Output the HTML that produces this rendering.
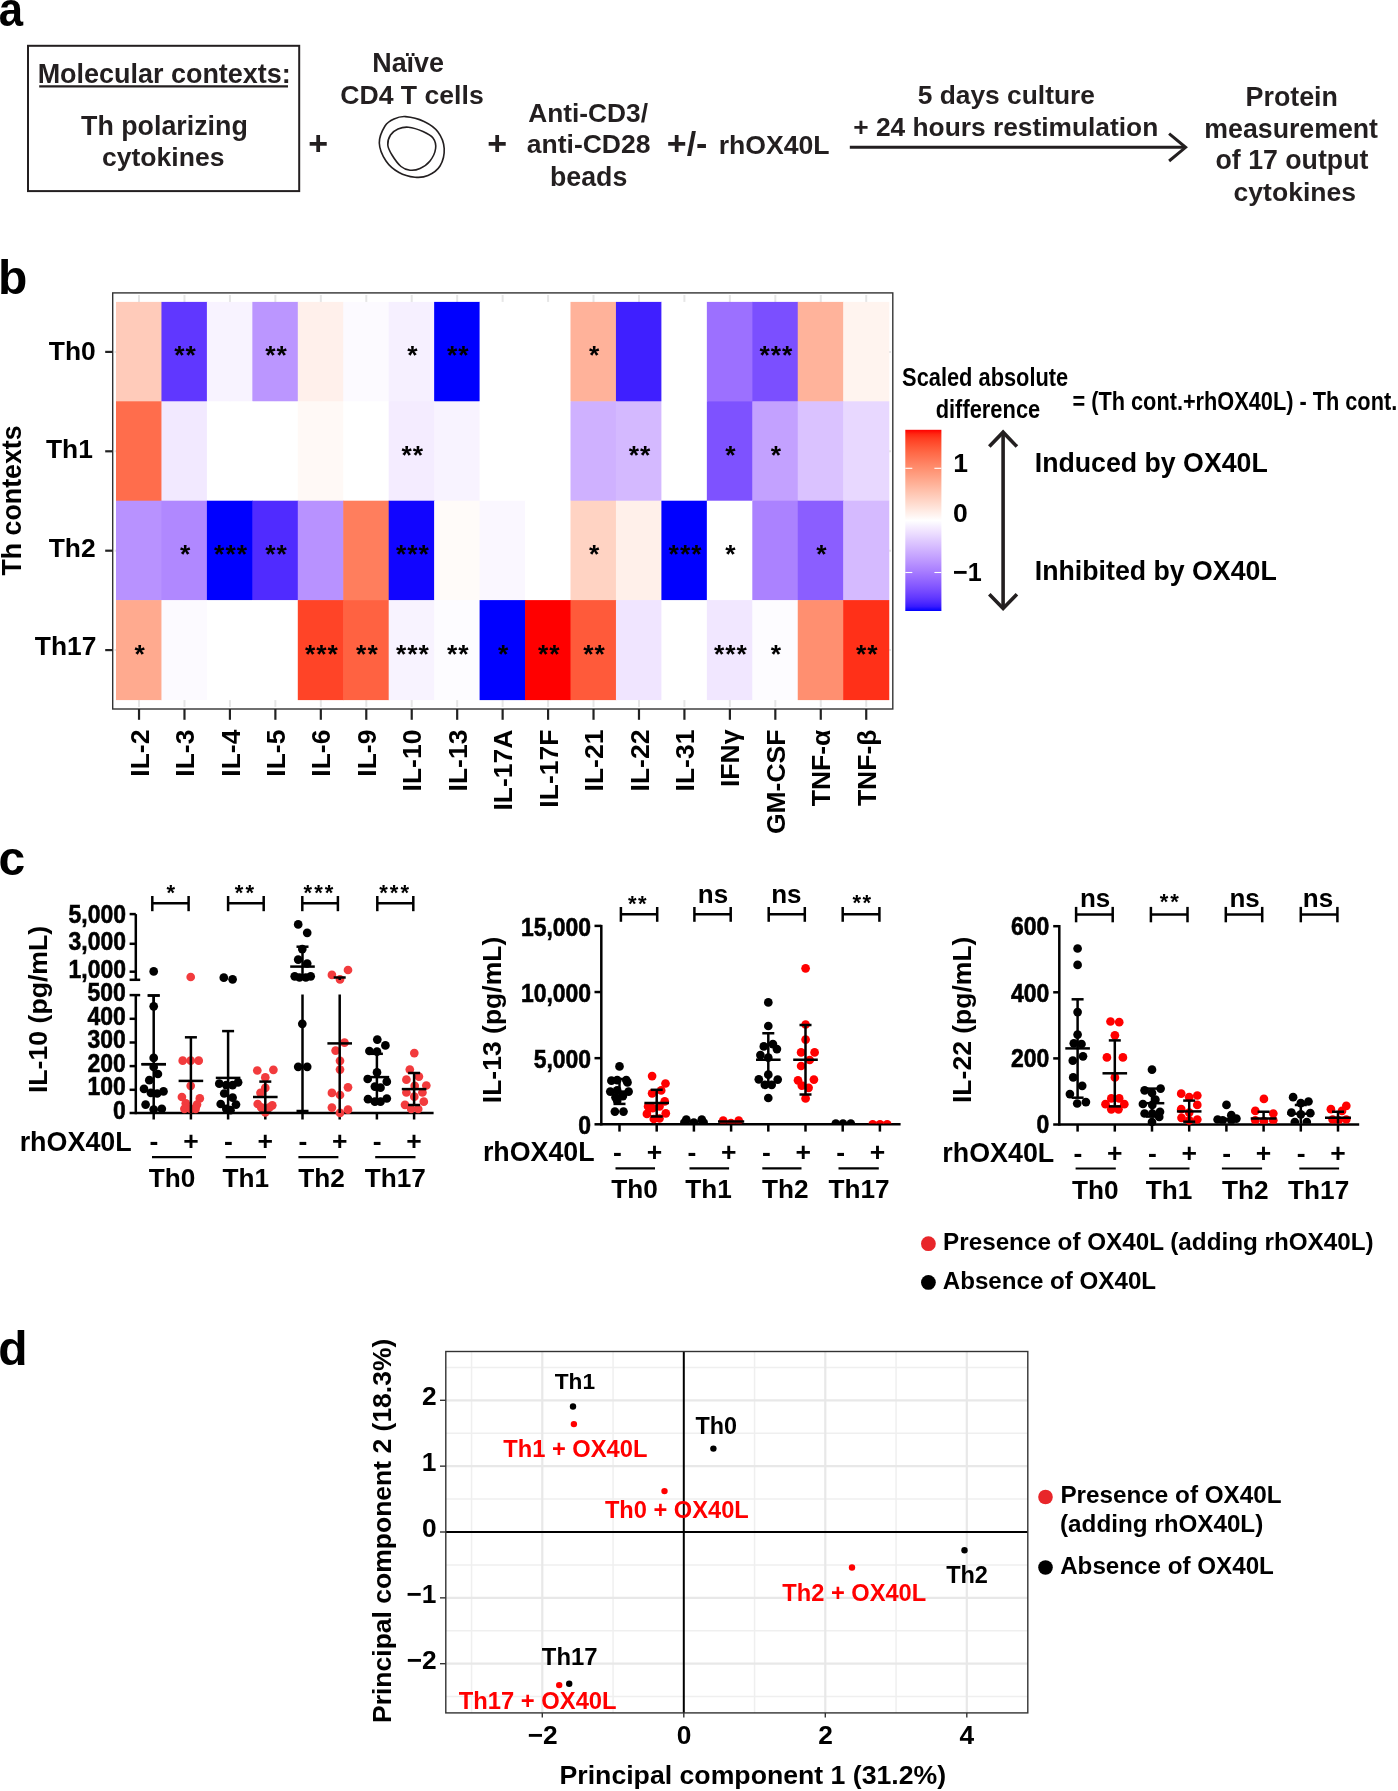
<!DOCTYPE html>
<html><head><meta charset="utf-8"><title>Figure</title>
<style>
html,body{margin:0;padding:0;background:#fff;}
svg{display:block;will-change:transform;}
text{font-family:"Liberation Sans",sans-serif;font-weight:bold;}
</style></head>
<body>
<svg width="1398" height="1791" viewBox="0 0 1398 1791">
<rect x="0" y="0" width="1398" height="1791" fill="#fff"/>
<text transform="translate(-1.36,26.20) scale(0.91,1)" font-size="48" fill="#000" >a</text>
<rect x="28" y="45.8" width="271.2" height="145.3" fill="none" stroke="#231f20" stroke-width="2"/>
<text x="37.65" y="82.90" font-size="26.96" fill="#231f20" >Molecular contexts:</text>
<line x1="39.20" y1="86.40" x2="288.00" y2="86.40" stroke="#231f20" stroke-width="2.2" stroke-linecap="butt"/>
<text x="81.05" y="134.60" font-size="26.8" fill="#231f20" >Th polarizing</text>
<text x="102.00" y="166.00" font-size="26.54" fill="#231f20" >cytokines</text>
<text x="308.30" y="155.40" font-size="34" fill="#231f20" >+</text>
<text x="372.25" y="72.30" font-size="26.9" fill="#231f20" >Naïve</text>
<text x="340.20" y="103.70" font-size="26.63" fill="#231f20" >CD4 T cells</text>
<path d="M405.50,116.60 C410.50,117.02 418.58,118.93 424.00,121.50 C429.42,124.07 434.63,127.50 438.00,132.00 C441.37,136.50 443.87,142.83 444.20,148.50 C444.53,154.17 442.70,161.50 440.00,166.00 C437.30,170.50 432.17,173.63 428.00,175.50 C423.83,177.37 419.83,177.70 415.00,177.20 C410.17,176.70 403.83,175.20 399.00,172.50 C394.17,169.80 389.28,165.92 386.00,161.00 C382.72,156.08 379.47,148.83 379.30,143.00 C379.13,137.17 382.55,130.00 385.00,126.00 C387.45,122.00 390.58,120.57 394.00,119.00 C397.42,117.43 400.50,116.18 405.50,116.60 Z" fill="none" stroke="#231f20" stroke-width="1.6"/>
<path d="M408.50,127.20 C412.67,127.62 418.92,129.70 423.00,131.50 C427.08,133.30 430.90,135.17 433.00,138.00 C435.10,140.83 436.10,144.67 435.60,148.50 C435.10,152.33 432.60,157.67 430.00,161.00 C427.40,164.33 423.33,166.97 420.00,168.50 C416.67,170.03 413.17,170.53 410.00,170.20 C406.83,169.87 404.00,169.03 401.00,166.50 C398.00,163.97 394.20,158.58 392.00,155.00 C389.80,151.42 388.05,148.33 387.80,145.00 C387.55,141.67 388.80,137.67 390.50,135.00 C392.20,132.33 395.00,130.30 398.00,129.00 C401.00,127.70 404.33,126.78 408.50,127.20 Z" fill="none" stroke="#231f20" stroke-width="1.6"/>
<text x="487.30" y="155.40" font-size="34" fill="#231f20" >+</text>
<text x="528.25" y="121.80" font-size="26.31" fill="#231f20" >Anti-CD3/</text>
<text x="526.75" y="153.40" font-size="26.53" fill="#231f20" >anti-CD28</text>
<text x="550.05" y="185.80" font-size="26.72" fill="#231f20" >beads</text>
<text x="666.80" y="154.60" font-size="34" fill="#231f20" >+/-</text>
<text x="718.65" y="153.80" font-size="26.63" fill="#231f20" >rhOX40L</text>
<line x1="849.80" y1="147.30" x2="1185.00" y2="147.30" stroke="#231f20" stroke-width="3" stroke-linecap="butt"/>
<polyline points="1169.1,133.6 1185.6,147.3 1169.1,161.0" fill="none" stroke="#231f20" stroke-width="3"/>
<text x="917.75" y="104.30" font-size="26.35" fill="#231f20" >5 days culture</text>
<text x="853.20" y="136.40" font-size="26.34" fill="#231f20" >+ 24 hours restimulation</text>
<text x="1245.55" y="106.00" font-size="26.83" fill="#231f20" >Protein</text>
<text x="1204.35" y="137.70" font-size="26.71" fill="#231f20" >measurement</text>
<text x="1215.50" y="169.40" font-size="26.72" fill="#231f20" >of 17 output</text>
<text x="1233.60" y="200.90" font-size="26.54" fill="#231f20" >cytokines</text>
<text x="-1.95" y="294.30" font-size="48" fill="#000" >b</text>
<line x1="139.03" y1="295.00" x2="139.03" y2="707.00" stroke="#e6e6e6" stroke-width="2.0" stroke-linecap="butt"/>
<line x1="184.48" y1="295.00" x2="184.48" y2="707.00" stroke="#e6e6e6" stroke-width="2.0" stroke-linecap="butt"/>
<line x1="229.93" y1="295.00" x2="229.93" y2="707.00" stroke="#e6e6e6" stroke-width="2.0" stroke-linecap="butt"/>
<line x1="275.38" y1="295.00" x2="275.38" y2="707.00" stroke="#e6e6e6" stroke-width="2.0" stroke-linecap="butt"/>
<line x1="320.82" y1="295.00" x2="320.82" y2="707.00" stroke="#e6e6e6" stroke-width="2.0" stroke-linecap="butt"/>
<line x1="366.28" y1="295.00" x2="366.28" y2="707.00" stroke="#e6e6e6" stroke-width="2.0" stroke-linecap="butt"/>
<line x1="411.73" y1="295.00" x2="411.73" y2="707.00" stroke="#e6e6e6" stroke-width="2.0" stroke-linecap="butt"/>
<line x1="457.18" y1="295.00" x2="457.18" y2="707.00" stroke="#e6e6e6" stroke-width="2.0" stroke-linecap="butt"/>
<line x1="502.63" y1="295.00" x2="502.63" y2="707.00" stroke="#e6e6e6" stroke-width="2.0" stroke-linecap="butt"/>
<line x1="548.08" y1="295.00" x2="548.08" y2="707.00" stroke="#e6e6e6" stroke-width="2.0" stroke-linecap="butt"/>
<line x1="593.52" y1="295.00" x2="593.52" y2="707.00" stroke="#e6e6e6" stroke-width="2.0" stroke-linecap="butt"/>
<line x1="638.98" y1="295.00" x2="638.98" y2="707.00" stroke="#e6e6e6" stroke-width="2.0" stroke-linecap="butt"/>
<line x1="684.42" y1="295.00" x2="684.42" y2="707.00" stroke="#e6e6e6" stroke-width="2.0" stroke-linecap="butt"/>
<line x1="729.88" y1="295.00" x2="729.88" y2="707.00" stroke="#e6e6e6" stroke-width="2.0" stroke-linecap="butt"/>
<line x1="775.33" y1="295.00" x2="775.33" y2="707.00" stroke="#e6e6e6" stroke-width="2.0" stroke-linecap="butt"/>
<line x1="820.77" y1="295.00" x2="820.77" y2="707.00" stroke="#e6e6e6" stroke-width="2.0" stroke-linecap="butt"/>
<line x1="866.23" y1="295.00" x2="866.23" y2="707.00" stroke="#e6e6e6" stroke-width="2.0" stroke-linecap="butt"/>
<line x1="114.50" y1="351.90" x2="891.00" y2="351.90" stroke="#e6e6e6" stroke-width="2.0" stroke-linecap="butt"/>
<line x1="114.50" y1="451.30" x2="891.00" y2="451.30" stroke="#e6e6e6" stroke-width="2.0" stroke-linecap="butt"/>
<line x1="114.50" y1="550.70" x2="891.00" y2="550.70" stroke="#e6e6e6" stroke-width="2.0" stroke-linecap="butt"/>
<line x1="114.50" y1="650.10" x2="891.00" y2="650.10" stroke="#e6e6e6" stroke-width="2.0" stroke-linecap="butt"/>
<rect x="116.00" y="301.90" width="46.05" height="100.00" fill="#ffcbba"/>
<rect x="161.45" y="301.90" width="46.05" height="100.00" fill="#6037ff"/>
<rect x="206.90" y="301.90" width="46.05" height="100.00" fill="#f8f3ff"/>
<rect x="252.35" y="301.90" width="46.05" height="100.00" fill="#bb96ff"/>
<rect x="297.80" y="301.90" width="46.05" height="100.00" fill="#fff0eb"/>
<rect x="343.25" y="301.90" width="46.05" height="100.00" fill="#fcfaff"/>
<rect x="388.70" y="301.90" width="46.05" height="100.00" fill="#f6f0ff"/>
<rect x="434.15" y="301.90" width="46.05" height="100.00" fill="#0000ff"/>
<rect x="479.60" y="301.90" width="46.05" height="100.00" fill="#ffffff"/>
<rect x="525.05" y="301.90" width="46.05" height="100.00" fill="#ffffff"/>
<rect x="570.50" y="301.90" width="46.05" height="100.00" fill="#ffb29a"/>
<rect x="615.95" y="301.90" width="46.05" height="100.00" fill="#3f1fff"/>
<rect x="661.40" y="301.90" width="46.05" height="100.00" fill="#ffffff"/>
<rect x="706.85" y="301.90" width="46.05" height="100.00" fill="#9c70ff"/>
<rect x="752.30" y="301.90" width="46.05" height="100.00" fill="#7b4fff"/>
<rect x="797.75" y="301.90" width="46.05" height="100.00" fill="#ffb39b"/>
<rect x="843.20" y="301.90" width="46.05" height="100.00" fill="#fff4ef"/>
<rect x="116.00" y="401.30" width="46.05" height="100.00" fill="#ff6d4c"/>
<rect x="161.45" y="401.30" width="46.05" height="100.00" fill="#f2e9ff"/>
<rect x="206.90" y="401.30" width="46.05" height="100.00" fill="#ffffff"/>
<rect x="252.35" y="401.30" width="46.05" height="100.00" fill="#ffffff"/>
<rect x="297.80" y="401.30" width="46.05" height="100.00" fill="#fff9f6"/>
<rect x="343.25" y="401.30" width="46.05" height="100.00" fill="#ffffff"/>
<rect x="388.70" y="401.30" width="46.05" height="100.00" fill="#f4ecff"/>
<rect x="434.15" y="401.30" width="46.05" height="100.00" fill="#f8f3ff"/>
<rect x="479.60" y="401.30" width="46.05" height="100.00" fill="#ffffff"/>
<rect x="525.05" y="401.30" width="46.05" height="100.00" fill="#ffffff"/>
<rect x="570.50" y="401.30" width="46.05" height="100.00" fill="#cfb1ff"/>
<rect x="615.95" y="401.30" width="46.05" height="100.00" fill="#d4b9ff"/>
<rect x="661.40" y="401.30" width="46.05" height="100.00" fill="#ffffff"/>
<rect x="706.85" y="401.30" width="46.05" height="100.00" fill="#7e52ff"/>
<rect x="752.30" y="401.30" width="46.05" height="100.00" fill="#c3a1ff"/>
<rect x="797.75" y="401.30" width="46.05" height="100.00" fill="#dac2ff"/>
<rect x="843.20" y="401.30" width="46.05" height="100.00" fill="#e8d8ff"/>
<rect x="116.00" y="500.70" width="46.05" height="100.00" fill="#b892ff"/>
<rect x="161.45" y="500.70" width="46.05" height="100.00" fill="#b088ff"/>
<rect x="206.90" y="500.70" width="46.05" height="100.00" fill="#0000ff"/>
<rect x="252.35" y="500.70" width="46.05" height="100.00" fill="#502bff"/>
<rect x="297.80" y="500.70" width="46.05" height="100.00" fill="#b892ff"/>
<rect x="343.25" y="500.70" width="46.05" height="100.00" fill="#ff7e5d"/>
<rect x="388.70" y="500.70" width="46.05" height="100.00" fill="#1105ff"/>
<rect x="434.15" y="500.70" width="46.05" height="100.00" fill="#fffbf9"/>
<rect x="479.60" y="500.70" width="46.05" height="100.00" fill="#faf7ff"/>
<rect x="525.05" y="500.70" width="46.05" height="100.00" fill="#ffffff"/>
<rect x="570.50" y="500.70" width="46.05" height="100.00" fill="#ffd3c3"/>
<rect x="615.95" y="500.70" width="46.05" height="100.00" fill="#fff0ea"/>
<rect x="661.40" y="500.70" width="46.05" height="100.00" fill="#0000ff"/>
<rect x="706.85" y="500.70" width="46.05" height="100.00" fill="#ffffff"/>
<rect x="752.30" y="500.70" width="46.05" height="100.00" fill="#ab82ff"/>
<rect x="797.75" y="500.70" width="46.05" height="100.00" fill="#8b5eff"/>
<rect x="843.20" y="500.70" width="46.05" height="100.00" fill="#d5baff"/>
<rect x="116.00" y="600.10" width="46.05" height="100.00" fill="#ffaa8f"/>
<rect x="161.45" y="600.10" width="46.05" height="100.00" fill="#fcfaff"/>
<rect x="206.90" y="600.10" width="46.05" height="100.00" fill="#ffffff"/>
<rect x="252.35" y="600.10" width="46.05" height="100.00" fill="#ffffff"/>
<rect x="297.80" y="600.10" width="46.05" height="100.00" fill="#ff4427"/>
<rect x="343.25" y="600.10" width="46.05" height="100.00" fill="#ff6241"/>
<rect x="388.70" y="600.10" width="46.05" height="100.00" fill="#f8f3ff"/>
<rect x="434.15" y="600.10" width="46.05" height="100.00" fill="#fdfcff"/>
<rect x="479.60" y="600.10" width="46.05" height="100.00" fill="#0000ff"/>
<rect x="525.05" y="600.10" width="46.05" height="100.00" fill="#ff0000"/>
<rect x="570.50" y="600.10" width="46.05" height="100.00" fill="#ff5a3a"/>
<rect x="615.95" y="600.10" width="46.05" height="100.00" fill="#f0e5ff"/>
<rect x="661.40" y="600.10" width="46.05" height="100.00" fill="#ffffff"/>
<rect x="706.85" y="600.10" width="46.05" height="100.00" fill="#f1e7ff"/>
<rect x="752.30" y="600.10" width="46.05" height="100.00" fill="#fdfcff"/>
<rect x="797.75" y="600.10" width="46.05" height="100.00" fill="#ff8f70"/>
<rect x="843.20" y="600.10" width="46.05" height="100.00" fill="#ff3018"/>
<text x="174.28" y="364.38" font-size="26.5" fill="#000">*</text>
<text x="185.58" y="364.38" font-size="26.5" fill="#000">*</text>
<text x="265.18" y="364.38" font-size="26.5" fill="#000">*</text>
<text x="276.47" y="364.38" font-size="26.5" fill="#000">*</text>
<text x="407.18" y="364.38" font-size="26.5" fill="#000">*</text>
<text x="446.98" y="364.38" font-size="26.5" fill="#000">*</text>
<text x="458.27" y="364.38" font-size="26.5" fill="#000">*</text>
<text x="588.98" y="364.38" font-size="26.5" fill="#000">*</text>
<text x="759.48" y="364.38" font-size="26.5" fill="#000">*</text>
<text x="770.78" y="364.38" font-size="26.5" fill="#000">*</text>
<text x="782.08" y="364.38" font-size="26.5" fill="#000">*</text>
<text x="401.53" y="463.78" font-size="26.5" fill="#000">*</text>
<text x="412.82" y="463.78" font-size="26.5" fill="#000">*</text>
<text x="628.78" y="463.78" font-size="26.5" fill="#000">*</text>
<text x="640.08" y="463.78" font-size="26.5" fill="#000">*</text>
<text x="725.33" y="463.78" font-size="26.5" fill="#000">*</text>
<text x="770.78" y="463.78" font-size="26.5" fill="#000">*</text>
<text x="179.93" y="563.18" font-size="26.5" fill="#000">*</text>
<text x="214.07" y="563.18" font-size="26.5" fill="#000">*</text>
<text x="225.38" y="563.18" font-size="26.5" fill="#000">*</text>
<text x="236.68" y="563.18" font-size="26.5" fill="#000">*</text>
<text x="265.18" y="563.18" font-size="26.5" fill="#000">*</text>
<text x="276.47" y="563.18" font-size="26.5" fill="#000">*</text>
<text x="395.88" y="563.18" font-size="26.5" fill="#000">*</text>
<text x="407.18" y="563.18" font-size="26.5" fill="#000">*</text>
<text x="418.48" y="563.18" font-size="26.5" fill="#000">*</text>
<text x="588.98" y="563.18" font-size="26.5" fill="#000">*</text>
<text x="668.58" y="563.18" font-size="26.5" fill="#000">*</text>
<text x="679.88" y="563.18" font-size="26.5" fill="#000">*</text>
<text x="691.17" y="563.18" font-size="26.5" fill="#000">*</text>
<text x="725.33" y="563.18" font-size="26.5" fill="#000">*</text>
<text x="816.23" y="563.18" font-size="26.5" fill="#000">*</text>
<text x="134.47" y="662.58" font-size="26.5" fill="#000">*</text>
<text x="304.97" y="662.58" font-size="26.5" fill="#000">*</text>
<text x="316.27" y="662.58" font-size="26.5" fill="#000">*</text>
<text x="327.57" y="662.58" font-size="26.5" fill="#000">*</text>
<text x="356.08" y="662.58" font-size="26.5" fill="#000">*</text>
<text x="367.38" y="662.58" font-size="26.5" fill="#000">*</text>
<text x="395.88" y="662.58" font-size="26.5" fill="#000">*</text>
<text x="407.18" y="662.58" font-size="26.5" fill="#000">*</text>
<text x="418.48" y="662.58" font-size="26.5" fill="#000">*</text>
<text x="446.98" y="662.58" font-size="26.5" fill="#000">*</text>
<text x="458.27" y="662.58" font-size="26.5" fill="#000">*</text>
<text x="498.08" y="662.58" font-size="26.5" fill="#000">*</text>
<text x="537.88" y="662.58" font-size="26.5" fill="#000">*</text>
<text x="549.18" y="662.58" font-size="26.5" fill="#000">*</text>
<text x="583.33" y="662.58" font-size="26.5" fill="#000">*</text>
<text x="594.62" y="662.58" font-size="26.5" fill="#000">*</text>
<text x="714.03" y="662.58" font-size="26.5" fill="#000">*</text>
<text x="725.33" y="662.58" font-size="26.5" fill="#000">*</text>
<text x="736.62" y="662.58" font-size="26.5" fill="#000">*</text>
<text x="770.78" y="662.58" font-size="26.5" fill="#000">*</text>
<text x="856.03" y="662.58" font-size="26.5" fill="#000">*</text>
<text x="867.33" y="662.58" font-size="26.5" fill="#000">*</text>
<rect x="112.7" y="292.9" width="780.1" height="416.1" fill="none" stroke="#333" stroke-width="1.4"/>
<line x1="105.20" y1="351.90" x2="112.70" y2="351.90" stroke="#222" stroke-width="2.2" stroke-linecap="butt"/>
<line x1="105.20" y1="451.30" x2="112.70" y2="451.30" stroke="#222" stroke-width="2.2" stroke-linecap="butt"/>
<line x1="105.20" y1="550.70" x2="112.70" y2="550.70" stroke="#222" stroke-width="2.2" stroke-linecap="butt"/>
<line x1="105.20" y1="650.10" x2="112.70" y2="650.10" stroke="#222" stroke-width="2.2" stroke-linecap="butt"/>
<line x1="139.03" y1="709.00" x2="139.03" y2="719.80" stroke="#222" stroke-width="2.2" stroke-linecap="butt"/>
<line x1="184.48" y1="709.00" x2="184.48" y2="719.80" stroke="#222" stroke-width="2.2" stroke-linecap="butt"/>
<line x1="229.93" y1="709.00" x2="229.93" y2="719.80" stroke="#222" stroke-width="2.2" stroke-linecap="butt"/>
<line x1="275.38" y1="709.00" x2="275.38" y2="719.80" stroke="#222" stroke-width="2.2" stroke-linecap="butt"/>
<line x1="320.82" y1="709.00" x2="320.82" y2="719.80" stroke="#222" stroke-width="2.2" stroke-linecap="butt"/>
<line x1="366.28" y1="709.00" x2="366.28" y2="719.80" stroke="#222" stroke-width="2.2" stroke-linecap="butt"/>
<line x1="411.73" y1="709.00" x2="411.73" y2="719.80" stroke="#222" stroke-width="2.2" stroke-linecap="butt"/>
<line x1="457.18" y1="709.00" x2="457.18" y2="719.80" stroke="#222" stroke-width="2.2" stroke-linecap="butt"/>
<line x1="502.63" y1="709.00" x2="502.63" y2="719.80" stroke="#222" stroke-width="2.2" stroke-linecap="butt"/>
<line x1="548.08" y1="709.00" x2="548.08" y2="719.80" stroke="#222" stroke-width="2.2" stroke-linecap="butt"/>
<line x1="593.52" y1="709.00" x2="593.52" y2="719.80" stroke="#222" stroke-width="2.2" stroke-linecap="butt"/>
<line x1="638.98" y1="709.00" x2="638.98" y2="719.80" stroke="#222" stroke-width="2.2" stroke-linecap="butt"/>
<line x1="684.42" y1="709.00" x2="684.42" y2="719.80" stroke="#222" stroke-width="2.2" stroke-linecap="butt"/>
<line x1="729.88" y1="709.00" x2="729.88" y2="719.80" stroke="#222" stroke-width="2.2" stroke-linecap="butt"/>
<line x1="775.33" y1="709.00" x2="775.33" y2="719.80" stroke="#222" stroke-width="2.2" stroke-linecap="butt"/>
<line x1="820.77" y1="709.00" x2="820.77" y2="719.80" stroke="#222" stroke-width="2.2" stroke-linecap="butt"/>
<line x1="866.23" y1="709.00" x2="866.23" y2="719.80" stroke="#222" stroke-width="2.2" stroke-linecap="butt"/>
<text x="48.85" y="360.30" font-size="26.4" fill="#000" >Th0</text>
<text x="45.90" y="458.40" font-size="26.4" fill="#000" >Th1</text>
<text x="48.75" y="556.50" font-size="26.4" fill="#000" >Th2</text>
<text x="34.80" y="654.70" font-size="26.4" fill="#000" >Th17</text>
<text transform="translate(20.80,575.50) rotate(-90)" font-size="26.75" fill="#000">Th contexts</text>
<text transform="translate(148.62,776.71) rotate(-90)" font-size="26.5" fill="#000">IL-2</text>
<text transform="translate(194.08,776.71) rotate(-90)" font-size="26.5" fill="#000">IL-3</text>
<text transform="translate(239.53,776.71) rotate(-90)" font-size="26.5" fill="#000">IL-4</text>
<text transform="translate(284.98,776.71) rotate(-90)" font-size="26.5" fill="#000">IL-5</text>
<text transform="translate(330.43,776.71) rotate(-90)" font-size="26.5" fill="#000">IL-6</text>
<text transform="translate(375.88,776.71) rotate(-90)" font-size="26.5" fill="#000">IL-9</text>
<text transform="translate(421.33,791.44) rotate(-90)" font-size="26.5" fill="#000">IL-10</text>
<text transform="translate(466.78,791.44) rotate(-90)" font-size="26.5" fill="#000">IL-13</text>
<text transform="translate(512.23,810.58) rotate(-90)" font-size="26.5" fill="#000">IL-17A</text>
<text transform="translate(557.68,807.63) rotate(-90)" font-size="26.5" fill="#000">IL-17F</text>
<text transform="translate(603.12,791.44) rotate(-90)" font-size="26.5" fill="#000">IL-21</text>
<text transform="translate(648.58,791.44) rotate(-90)" font-size="26.5" fill="#000">IL-22</text>
<text transform="translate(694.02,791.44) rotate(-90)" font-size="26.5" fill="#000">IL-31</text>
<text transform="translate(739.48,787.02) rotate(-90)" font-size="26.5" fill="#000">IFNγ</text>
<text transform="translate(784.93,834.12) rotate(-90)" font-size="26.5" fill="#000">GM-CSF</text>
<text transform="translate(830.38,806.24) rotate(-90)" font-size="26.5" fill="#000">TNF-α</text>
<text transform="translate(875.83,806.12) rotate(-90)" font-size="26.5" fill="#000">TNF-β</text>
<text transform="translate(902.08,386.40) scale(0.824,1)" font-size="26.5" fill="#000" >Scaled absolute</text>
<text transform="translate(935.67,417.90) scale(0.8257,1)" font-size="26.5" fill="#000" >difference</text>
<text transform="translate(1072.48,409.50) scale(0.8206,1)" font-size="26.5" fill="#000" >= (Th cont.+rhOX40L) - Th cont.</text>
<defs><linearGradient id="cb" x1="0" y1="0" x2="0" y2="1"><stop offset="0.000" stop-color="#ff0000"/><stop offset="0.025" stop-color="#ff2913"/><stop offset="0.050" stop-color="#ff3e22"/><stop offset="0.075" stop-color="#ff4d2e"/><stop offset="0.100" stop-color="#ff5b3a"/><stop offset="0.125" stop-color="#ff6846"/><stop offset="0.150" stop-color="#ff7352"/><stop offset="0.175" stop-color="#ff7e5e"/><stop offset="0.200" stop-color="#ff8969"/><stop offset="0.225" stop-color="#ff9475"/><stop offset="0.250" stop-color="#ff9e81"/><stop offset="0.275" stop-color="#ffa88d"/><stop offset="0.300" stop-color="#ffb299"/><stop offset="0.325" stop-color="#ffbca6"/><stop offset="0.350" stop-color="#ffc6b2"/><stop offset="0.375" stop-color="#ffcfbf"/><stop offset="0.400" stop-color="#ffd9cb"/><stop offset="0.425" stop-color="#ffe2d8"/><stop offset="0.450" stop-color="#ffece5"/><stop offset="0.475" stop-color="#fff5f2"/><stop offset="0.500" stop-color="#ffffff"/><stop offset="0.525" stop-color="#f8f3ff"/><stop offset="0.550" stop-color="#f2e7ff"/><stop offset="0.575" stop-color="#ebdcff"/><stop offset="0.600" stop-color="#e3d0ff"/><stop offset="0.625" stop-color="#dcc4ff"/><stop offset="0.650" stop-color="#d4b9ff"/><stop offset="0.675" stop-color="#ccadff"/><stop offset="0.700" stop-color="#c4a2ff"/><stop offset="0.725" stop-color="#bc97ff"/><stop offset="0.750" stop-color="#b38bff"/><stop offset="0.775" stop-color="#aa80ff"/><stop offset="0.800" stop-color="#a074ff"/><stop offset="0.825" stop-color="#9569ff"/><stop offset="0.850" stop-color="#8a5dff"/><stop offset="0.875" stop-color="#7e52ff"/><stop offset="0.900" stop-color="#7145ff"/><stop offset="0.925" stop-color="#6239ff"/><stop offset="0.950" stop-color="#502bff"/><stop offset="0.975" stop-color="#381bff"/><stop offset="1.000" stop-color="#0000ff"/></linearGradient></defs>
<rect x="905.3" y="429.8" width="36.1" height="181.2" fill="url(#cb)"/>
<line x1="905.30" y1="468.30" x2="912.30" y2="468.30" stroke="#fff" stroke-width="1.1" stroke-linecap="butt"/>
<line x1="934.40" y1="468.30" x2="941.40" y2="468.30" stroke="#fff" stroke-width="1.1" stroke-linecap="butt"/>
<line x1="905.30" y1="520.40" x2="912.30" y2="520.40" stroke="#fff" stroke-width="1.1" stroke-linecap="butt"/>
<line x1="934.40" y1="520.40" x2="941.40" y2="520.40" stroke="#fff" stroke-width="1.1" stroke-linecap="butt"/>
<line x1="905.30" y1="572.50" x2="912.30" y2="572.50" stroke="#fff" stroke-width="1.1" stroke-linecap="butt"/>
<line x1="934.40" y1="572.50" x2="941.40" y2="572.50" stroke="#fff" stroke-width="1.1" stroke-linecap="butt"/>
<text x="953.15" y="471.60" font-size="26.5" fill="#000" >1</text>
<text x="953.00" y="522.20" font-size="26.5" fill="#000" >0</text>
<text transform="translate(953.05,580.70) scale(0.95,1)" font-size="26.5" fill="#000" >−1</text>
<line x1="1003.10" y1="432.50" x2="1003.10" y2="608.00" stroke="#231f20" stroke-width="3.6" stroke-linecap="butt"/>
<polyline points="989.3,446.6 1003.1,432.2 1016.9,446.6" fill="none" stroke="#231f20" stroke-width="3.6"/>
<polyline points="989.3,594.2 1003.1,608.4 1016.9,594.2" fill="none" stroke="#231f20" stroke-width="3.6"/>
<text x="1034.75" y="471.60" font-size="26.71" fill="#000" >Induced by OX40L</text>
<text x="1034.75" y="580.40" font-size="26.73" fill="#000" >Inhibited by OX40L</text>
<text x="-1.40" y="875.30" font-size="48" fill="#000" >c</text>
<line x1="135.80" y1="914.10" x2="135.80" y2="979.80" stroke="#000" stroke-width="2.5" stroke-linecap="butt"/>
<line x1="135.80" y1="995.10" x2="135.80" y2="1114.20" stroke="#000" stroke-width="2.5" stroke-linecap="butt"/>
<line x1="129.60" y1="914.10" x2="135.80" y2="914.10" stroke="#000" stroke-width="2.5" stroke-linecap="butt"/>
<line x1="129.60" y1="943.80" x2="135.80" y2="943.80" stroke="#000" stroke-width="2.5" stroke-linecap="butt"/>
<line x1="129.60" y1="971.70" x2="135.80" y2="971.70" stroke="#000" stroke-width="2.5" stroke-linecap="butt"/>
<line x1="129.60" y1="979.80" x2="140.20" y2="979.80" stroke="#000" stroke-width="2.5" stroke-linecap="butt"/>
<line x1="129.60" y1="995.10" x2="140.20" y2="995.10" stroke="#000" stroke-width="2.5" stroke-linecap="butt"/>
<line x1="129.60" y1="1018.80" x2="135.80" y2="1018.80" stroke="#000" stroke-width="2.5" stroke-linecap="butt"/>
<line x1="129.60" y1="1042.50" x2="135.80" y2="1042.50" stroke="#000" stroke-width="2.5" stroke-linecap="butt"/>
<line x1="129.60" y1="1066.10" x2="135.80" y2="1066.10" stroke="#000" stroke-width="2.5" stroke-linecap="butt"/>
<line x1="129.60" y1="1089.80" x2="135.80" y2="1089.80" stroke="#000" stroke-width="2.5" stroke-linecap="butt"/>
<line x1="129.60" y1="1113.00" x2="433.60" y2="1113.00" stroke="#000" stroke-width="2.5" stroke-linecap="butt"/>
<line x1="153.70" y1="1113.00" x2="153.70" y2="1119.50" stroke="#000" stroke-width="2.5" stroke-linecap="butt"/>
<line x1="190.90" y1="1113.00" x2="190.90" y2="1119.50" stroke="#000" stroke-width="2.5" stroke-linecap="butt"/>
<line x1="228.10" y1="1113.00" x2="228.10" y2="1119.50" stroke="#000" stroke-width="2.5" stroke-linecap="butt"/>
<line x1="265.30" y1="1113.00" x2="265.30" y2="1119.50" stroke="#000" stroke-width="2.5" stroke-linecap="butt"/>
<line x1="302.50" y1="1113.00" x2="302.50" y2="1119.50" stroke="#000" stroke-width="2.5" stroke-linecap="butt"/>
<line x1="339.70" y1="1113.00" x2="339.70" y2="1119.50" stroke="#000" stroke-width="2.5" stroke-linecap="butt"/>
<line x1="376.90" y1="1113.00" x2="376.90" y2="1119.50" stroke="#000" stroke-width="2.5" stroke-linecap="butt"/>
<line x1="414.10" y1="1113.00" x2="414.10" y2="1119.50" stroke="#000" stroke-width="2.5" stroke-linecap="butt"/>
<text transform="translate(68.59,922.60) scale(0.863,1)" font-size="26.6" fill="#000" stroke="#000" stroke-width="0.6">5,000</text>
<text transform="translate(68.59,950.40) scale(0.863,1)" font-size="26.6" fill="#000" stroke="#000" stroke-width="0.6">3,000</text>
<text transform="translate(68.59,977.90) scale(0.863,1)" font-size="26.6" fill="#000" stroke="#000" stroke-width="0.6">1,000</text>
<text transform="translate(87.58,1000.60) scale(0.863,1)" font-size="26.6" fill="#000" stroke="#000" stroke-width="0.6">500</text>
<text transform="translate(87.58,1024.50) scale(0.863,1)" font-size="26.6" fill="#000" stroke="#000" stroke-width="0.6">400</text>
<text transform="translate(87.58,1047.90) scale(0.863,1)" font-size="26.6" fill="#000" stroke="#000" stroke-width="0.6">300</text>
<text transform="translate(87.58,1071.70) scale(0.863,1)" font-size="26.6" fill="#000" stroke="#000" stroke-width="0.6">200</text>
<text transform="translate(87.58,1095.20) scale(0.863,1)" font-size="26.6" fill="#000" stroke="#000" stroke-width="0.6">100</text>
<text transform="translate(113.03,1119.00) scale(0.863,1)" font-size="26.6" fill="#000" stroke="#000" stroke-width="0.6">0</text>
<text transform="translate(46.90,1093.10) rotate(-90)" font-size="26.66" fill="#000">IL-10 (pg/mL)</text>
<line x1="152.30" y1="903.20" x2="188.60" y2="903.20" stroke="#000" stroke-width="2.5" stroke-linecap="butt"/>
<line x1="152.30" y1="896.00" x2="152.30" y2="911.20" stroke="#000" stroke-width="2.5" stroke-linecap="butt"/>
<line x1="188.60" y1="896.00" x2="188.60" y2="911.20" stroke="#000" stroke-width="2.5" stroke-linecap="butt"/>
<line x1="228.10" y1="903.20" x2="263.70" y2="903.20" stroke="#000" stroke-width="2.5" stroke-linecap="butt"/>
<line x1="228.10" y1="896.00" x2="228.10" y2="911.20" stroke="#000" stroke-width="2.5" stroke-linecap="butt"/>
<line x1="263.70" y1="896.00" x2="263.70" y2="911.20" stroke="#000" stroke-width="2.5" stroke-linecap="butt"/>
<line x1="302.30" y1="903.20" x2="337.90" y2="903.20" stroke="#000" stroke-width="2.5" stroke-linecap="butt"/>
<line x1="302.30" y1="896.00" x2="302.30" y2="911.20" stroke="#000" stroke-width="2.5" stroke-linecap="butt"/>
<line x1="337.90" y1="896.00" x2="337.90" y2="911.20" stroke="#000" stroke-width="2.5" stroke-linecap="butt"/>
<line x1="377.30" y1="903.20" x2="413.30" y2="903.20" stroke="#000" stroke-width="2.5" stroke-linecap="butt"/>
<line x1="377.30" y1="896.00" x2="377.30" y2="911.20" stroke="#000" stroke-width="2.5" stroke-linecap="butt"/>
<line x1="413.30" y1="896.00" x2="413.30" y2="911.20" stroke="#000" stroke-width="2.5" stroke-linecap="butt"/>
<text x="166.45" y="899.83" font-size="22" fill="#000">*</text>
<text x="234.85" y="899.83" font-size="22" fill="#000">*</text>
<text x="245.45" y="899.83" font-size="22" fill="#000">*</text>
<text x="303.55" y="899.83" font-size="22" fill="#000">*</text>
<text x="314.15" y="899.83" font-size="22" fill="#000">*</text>
<text x="324.75" y="899.83" font-size="22" fill="#000">*</text>
<text x="379.25" y="899.83" font-size="22" fill="#000">*</text>
<text x="389.85" y="899.83" font-size="22" fill="#000">*</text>
<text x="400.45" y="899.83" font-size="22" fill="#000">*</text>
<line x1="153.70" y1="995.50" x2="153.70" y2="1113.00" stroke="#000" stroke-width="2.5" stroke-linecap="butt"/>
<line x1="147.70" y1="995.50" x2="159.70" y2="995.50" stroke="#000" stroke-width="2.5" stroke-linecap="butt"/>
<line x1="141.40" y1="1064.20" x2="166.00" y2="1064.20" stroke="#000" stroke-width="2.5" stroke-linecap="butt"/>
<circle cx="153.70" cy="971.40" r="4.35" fill="#000"/>
<circle cx="153.70" cy="1006.30" r="4.35" fill="#000"/>
<circle cx="153.70" cy="1057.90" r="4.35" fill="#000"/>
<circle cx="153.70" cy="1067.00" r="4.35" fill="#000"/>
<circle cx="157.90" cy="1074.00" r="4.35" fill="#000"/>
<circle cx="149.30" cy="1080.20" r="4.35" fill="#000"/>
<circle cx="144.00" cy="1088.90" r="4.35" fill="#000"/>
<circle cx="150.90" cy="1092.80" r="4.35" fill="#000"/>
<circle cx="157.20" cy="1093.50" r="4.35" fill="#000"/>
<circle cx="163.50" cy="1091.40" r="4.35" fill="#000"/>
<circle cx="145.60" cy="1104.60" r="4.35" fill="#000"/>
<circle cx="153.70" cy="1109.50" r="4.35" fill="#000"/>
<circle cx="161.80" cy="1108.80" r="4.35" fill="#000"/>
<line x1="153.70" y1="995.50" x2="153.70" y2="1003.00" stroke="#000" stroke-width="2.5" stroke-linecap="butt"/>
<line x1="147.70" y1="995.50" x2="159.70" y2="995.50" stroke="#000" stroke-width="2.5" stroke-linecap="butt"/>
<line x1="141.40" y1="1064.20" x2="166.00" y2="1064.20" stroke="#000" stroke-width="2.5" stroke-linecap="butt"/>
<circle cx="190.70" cy="977.00" r="4.35" fill="#f23b3d"/>
<circle cx="182.70" cy="1060.70" r="4.35" fill="#f23b3d"/>
<circle cx="190.70" cy="1060.70" r="4.35" fill="#f23b3d"/>
<circle cx="198.70" cy="1060.70" r="4.35" fill="#f23b3d"/>
<circle cx="190.70" cy="1085.80" r="4.35" fill="#f23b3d"/>
<circle cx="181.90" cy="1097.00" r="4.35" fill="#f23b3d"/>
<circle cx="199.80" cy="1098.40" r="4.35" fill="#f23b3d"/>
<circle cx="185.80" cy="1103.30" r="4.35" fill="#f23b3d"/>
<circle cx="197.00" cy="1104.60" r="4.35" fill="#f23b3d"/>
<circle cx="184.40" cy="1108.80" r="4.35" fill="#f23b3d"/>
<circle cx="190.70" cy="1108.80" r="4.35" fill="#f23b3d"/>
<circle cx="195.60" cy="1108.80" r="4.35" fill="#f23b3d"/>
<line x1="190.90" y1="1037.30" x2="190.90" y2="1113.00" stroke="#000" stroke-width="2.5" stroke-linecap="butt"/>
<line x1="184.90" y1="1037.30" x2="196.90" y2="1037.30" stroke="#000" stroke-width="2.5" stroke-linecap="butt"/>
<line x1="178.60" y1="1080.90" x2="203.20" y2="1080.90" stroke="#000" stroke-width="2.5" stroke-linecap="butt"/>
<line x1="228.10" y1="1031.10" x2="228.10" y2="1113.00" stroke="#000" stroke-width="2.5" stroke-linecap="butt"/>
<line x1="222.10" y1="1031.10" x2="234.10" y2="1031.10" stroke="#000" stroke-width="2.5" stroke-linecap="butt"/>
<line x1="215.80" y1="1077.90" x2="240.40" y2="1077.90" stroke="#000" stroke-width="2.5" stroke-linecap="butt"/>
<circle cx="223.80" cy="977.70" r="4.35" fill="#000"/>
<circle cx="232.60" cy="979.30" r="4.35" fill="#000"/>
<circle cx="219.30" cy="1083.70" r="4.35" fill="#000"/>
<circle cx="226.30" cy="1085.10" r="4.35" fill="#000"/>
<circle cx="232.60" cy="1085.10" r="4.35" fill="#000"/>
<circle cx="238.10" cy="1082.30" r="4.35" fill="#000"/>
<circle cx="224.20" cy="1093.50" r="4.35" fill="#000"/>
<circle cx="232.60" cy="1097.70" r="4.35" fill="#000"/>
<circle cx="220.70" cy="1104.00" r="4.35" fill="#000"/>
<circle cx="236.00" cy="1104.60" r="4.35" fill="#000"/>
<circle cx="226.30" cy="1108.80" r="4.35" fill="#000"/>
<circle cx="230.50" cy="1110.20" r="4.35" fill="#000"/>
<circle cx="257.30" cy="1070.50" r="4.35" fill="#f23b3d"/>
<circle cx="273.40" cy="1069.80" r="4.35" fill="#f23b3d"/>
<circle cx="265.30" cy="1077.40" r="4.35" fill="#f23b3d"/>
<circle cx="265.30" cy="1087.90" r="4.35" fill="#f23b3d"/>
<circle cx="260.50" cy="1092.80" r="4.35" fill="#f23b3d"/>
<circle cx="257.70" cy="1104.00" r="4.35" fill="#f23b3d"/>
<circle cx="272.30" cy="1105.30" r="4.35" fill="#f23b3d"/>
<circle cx="265.30" cy="1108.80" r="4.35" fill="#f23b3d"/>
<circle cx="261.20" cy="1107.40" r="4.35" fill="#f23b3d"/>
<circle cx="269.50" cy="1107.40" r="4.35" fill="#f23b3d"/>
<circle cx="265.30" cy="1112.30" r="4.35" fill="#f23b3d"/>
<line x1="265.30" y1="1081.60" x2="265.30" y2="1112.70" stroke="#000" stroke-width="2.5" stroke-linecap="butt"/>
<line x1="259.30" y1="1081.60" x2="271.30" y2="1081.60" stroke="#000" stroke-width="2.5" stroke-linecap="butt"/>
<line x1="259.30" y1="1112.70" x2="271.30" y2="1112.70" stroke="#000" stroke-width="2.5" stroke-linecap="butt"/>
<line x1="253.00" y1="1097.00" x2="277.60" y2="1097.00" stroke="#000" stroke-width="2.5" stroke-linecap="butt"/>
<circle cx="298.20" cy="924.40" r="4.35" fill="#000"/>
<circle cx="307.20" cy="932.80" r="4.35" fill="#000"/>
<circle cx="302.30" cy="949.10" r="4.35" fill="#000"/>
<circle cx="298.20" cy="959.60" r="4.35" fill="#000"/>
<circle cx="307.20" cy="963.50" r="4.35" fill="#000"/>
<circle cx="294.70" cy="976.30" r="4.35" fill="#000"/>
<circle cx="299.50" cy="977.50" r="4.35" fill="#000"/>
<circle cx="305.80" cy="977.50" r="4.35" fill="#000"/>
<circle cx="310.70" cy="976.30" r="4.35" fill="#000"/>
<circle cx="302.30" cy="1023.80" r="4.35" fill="#000"/>
<circle cx="298.20" cy="1066.80" r="4.35" fill="#000"/>
<circle cx="307.20" cy="1066.80" r="4.35" fill="#000"/>
<line x1="302.50" y1="946.70" x2="302.50" y2="980.00" stroke="#000" stroke-width="2.5" stroke-linecap="butt"/>
<line x1="302.50" y1="994.50" x2="302.50" y2="1111.00" stroke="#000" stroke-width="2.5" stroke-linecap="butt"/>
<line x1="296.50" y1="946.70" x2="308.50" y2="946.70" stroke="#000" stroke-width="2.5" stroke-linecap="butt"/>
<line x1="296.50" y1="1111.00" x2="308.50" y2="1111.00" stroke="#000" stroke-width="2.5" stroke-linecap="butt"/>
<line x1="290.20" y1="966.60" x2="314.80" y2="966.60" stroke="#000" stroke-width="2.5" stroke-linecap="butt"/>
<circle cx="331.90" cy="974.90" r="4.35" fill="#f23b3d"/>
<circle cx="348.00" cy="970.00" r="4.35" fill="#f23b3d"/>
<circle cx="340.00" cy="979.40" r="4.35" fill="#f23b3d"/>
<circle cx="344.50" cy="1042.70" r="4.35" fill="#f23b3d"/>
<circle cx="335.60" cy="1050.60" r="4.35" fill="#f23b3d"/>
<circle cx="340.00" cy="1060.80" r="4.35" fill="#f23b3d"/>
<circle cx="340.00" cy="1069.60" r="4.35" fill="#f23b3d"/>
<circle cx="348.00" cy="1087.30" r="4.35" fill="#f23b3d"/>
<circle cx="331.90" cy="1092.90" r="4.35" fill="#f23b3d"/>
<circle cx="340.00" cy="1095.00" r="4.35" fill="#f23b3d"/>
<circle cx="331.90" cy="1107.60" r="4.35" fill="#f23b3d"/>
<circle cx="348.00" cy="1109.70" r="4.35" fill="#f23b3d"/>
<circle cx="340.00" cy="1112.90" r="4.35" fill="#f23b3d"/>
<line x1="339.70" y1="977.50" x2="339.70" y2="980.00" stroke="#000" stroke-width="2.5" stroke-linecap="butt"/>
<line x1="339.70" y1="994.50" x2="339.70" y2="1113.00" stroke="#000" stroke-width="2.5" stroke-linecap="butt"/>
<line x1="333.70" y1="977.50" x2="345.70" y2="977.50" stroke="#000" stroke-width="2.5" stroke-linecap="butt"/>
<line x1="327.40" y1="1043.40" x2="352.00" y2="1043.40" stroke="#000" stroke-width="2.5" stroke-linecap="butt"/>
<circle cx="377.30" cy="1039.60" r="4.35" fill="#000"/>
<circle cx="385.40" cy="1045.40" r="4.35" fill="#000"/>
<circle cx="369.40" cy="1051.00" r="4.35" fill="#000"/>
<circle cx="377.00" cy="1051.70" r="4.35" fill="#000"/>
<circle cx="377.00" cy="1072.40" r="4.35" fill="#000"/>
<circle cx="367.70" cy="1079.00" r="4.35" fill="#000"/>
<circle cx="386.80" cy="1081.70" r="4.35" fill="#000"/>
<circle cx="374.90" cy="1086.60" r="4.35" fill="#000"/>
<circle cx="380.50" cy="1087.70" r="4.35" fill="#000"/>
<circle cx="368.00" cy="1099.20" r="4.35" fill="#000"/>
<circle cx="386.80" cy="1098.50" r="4.35" fill="#000"/>
<circle cx="374.90" cy="1101.70" r="4.35" fill="#000"/>
<circle cx="380.50" cy="1101.70" r="4.35" fill="#000"/>
<line x1="376.90" y1="1053.80" x2="376.90" y2="1100.00" stroke="#000" stroke-width="2.5" stroke-linecap="butt"/>
<line x1="370.90" y1="1053.80" x2="382.90" y2="1053.80" stroke="#000" stroke-width="2.5" stroke-linecap="butt"/>
<line x1="370.90" y1="1100.00" x2="382.90" y2="1100.00" stroke="#000" stroke-width="2.5" stroke-linecap="butt"/>
<line x1="364.60" y1="1077.10" x2="389.20" y2="1077.10" stroke="#000" stroke-width="2.5" stroke-linecap="butt"/>
<circle cx="414.30" cy="1053.10" r="4.35" fill="#f23b3d"/>
<circle cx="409.80" cy="1069.60" r="4.35" fill="#f23b3d"/>
<circle cx="418.90" cy="1076.60" r="4.35" fill="#f23b3d"/>
<circle cx="406.40" cy="1079.70" r="4.35" fill="#f23b3d"/>
<circle cx="414.70" cy="1085.90" r="4.35" fill="#f23b3d"/>
<circle cx="426.30" cy="1085.50" r="4.35" fill="#f23b3d"/>
<circle cx="406.40" cy="1092.50" r="4.35" fill="#f23b3d"/>
<circle cx="422.40" cy="1092.50" r="4.35" fill="#f23b3d"/>
<circle cx="414.30" cy="1096.70" r="4.35" fill="#f23b3d"/>
<circle cx="423.80" cy="1101.70" r="4.35" fill="#f23b3d"/>
<circle cx="405.00" cy="1104.80" r="4.35" fill="#f23b3d"/>
<circle cx="411.20" cy="1109.00" r="4.35" fill="#f23b3d"/>
<circle cx="418.20" cy="1109.00" r="4.35" fill="#f23b3d"/>
<line x1="414.10" y1="1073.00" x2="414.10" y2="1105.00" stroke="#000" stroke-width="2.5" stroke-linecap="butt"/>
<line x1="408.10" y1="1073.00" x2="420.10" y2="1073.00" stroke="#000" stroke-width="2.5" stroke-linecap="butt"/>
<line x1="408.10" y1="1105.00" x2="420.10" y2="1105.00" stroke="#000" stroke-width="2.5" stroke-linecap="butt"/>
<line x1="401.80" y1="1089.10" x2="426.40" y2="1089.10" stroke="#000" stroke-width="2.5" stroke-linecap="butt"/>
<text x="19.65" y="1150.80" font-size="26.9" fill="#000" >rhOX40L</text>
<text x="149.62" y="1149.90" font-size="26.5" fill="#000" >-</text>
<text x="183.15" y="1149.90" font-size="26.5" fill="#000" >+</text>
<line x1="152.00" y1="1157.20" x2="192.00" y2="1157.20" stroke="#000" stroke-width="2.2" stroke-linecap="butt"/>
<text x="224.03" y="1149.90" font-size="26.5" fill="#000" >-</text>
<text x="257.55" y="1149.90" font-size="26.5" fill="#000" >+</text>
<line x1="225.70" y1="1157.20" x2="266.00" y2="1157.20" stroke="#000" stroke-width="2.2" stroke-linecap="butt"/>
<text x="298.43" y="1149.90" font-size="26.5" fill="#000" >-</text>
<text x="331.95" y="1149.90" font-size="26.5" fill="#000" >+</text>
<line x1="298.40" y1="1157.20" x2="338.40" y2="1157.20" stroke="#000" stroke-width="2.2" stroke-linecap="butt"/>
<text x="372.82" y="1149.90" font-size="26.5" fill="#000" >-</text>
<text x="406.35" y="1149.90" font-size="26.5" fill="#000" >+</text>
<line x1="375.20" y1="1157.20" x2="415.50" y2="1157.20" stroke="#000" stroke-width="2.2" stroke-linecap="butt"/>
<text x="148.68" y="1187.10" font-size="26.2" fill="#000" >Th0</text>
<text x="222.50" y="1187.10" font-size="26.2" fill="#000" >Th1</text>
<text x="298.18" y="1187.10" font-size="26.2" fill="#000" >Th2</text>
<text x="364.75" y="1187.10" font-size="26.2" fill="#000" >Th17</text>
<defs><clipPath id="clip13"><rect x="602" y="900" width="300" height="223.6"/></clipPath><clipPath id="clip22"><rect x="1060" y="900" width="300" height="223.8"/></clipPath></defs>
<line x1="601.30" y1="924.90" x2="601.30" y2="1125.50" stroke="#000" stroke-width="2.5" stroke-linecap="butt"/>
<line x1="594.50" y1="925.89" x2="601.30" y2="925.89" stroke="#000" stroke-width="2.5" stroke-linecap="butt"/>
<line x1="594.50" y1="992.03" x2="601.30" y2="992.03" stroke="#000" stroke-width="2.5" stroke-linecap="butt"/>
<line x1="594.50" y1="1058.16" x2="601.30" y2="1058.16" stroke="#000" stroke-width="2.5" stroke-linecap="butt"/>
<line x1="594.50" y1="1124.30" x2="601.30" y2="1124.30" stroke="#000" stroke-width="2.5" stroke-linecap="butt"/>
<line x1="601.30" y1="1124.30" x2="900.60" y2="1124.30" stroke="#000" stroke-width="2.5" stroke-linecap="butt"/>
<line x1="619.50" y1="1124.30" x2="619.50" y2="1131.60" stroke="#000" stroke-width="2.5" stroke-linecap="butt"/>
<line x1="656.70" y1="1124.30" x2="656.70" y2="1131.60" stroke="#000" stroke-width="2.5" stroke-linecap="butt"/>
<line x1="693.90" y1="1124.30" x2="693.90" y2="1131.60" stroke="#000" stroke-width="2.5" stroke-linecap="butt"/>
<line x1="731.10" y1="1124.30" x2="731.10" y2="1131.60" stroke="#000" stroke-width="2.5" stroke-linecap="butt"/>
<line x1="768.30" y1="1124.30" x2="768.30" y2="1131.60" stroke="#000" stroke-width="2.5" stroke-linecap="butt"/>
<line x1="805.50" y1="1124.30" x2="805.50" y2="1131.60" stroke="#000" stroke-width="2.5" stroke-linecap="butt"/>
<line x1="842.70" y1="1124.30" x2="842.70" y2="1131.60" stroke="#000" stroke-width="2.5" stroke-linecap="butt"/>
<line x1="879.90" y1="1124.30" x2="879.90" y2="1131.60" stroke="#000" stroke-width="2.5" stroke-linecap="butt"/>
<text transform="translate(520.96,936.00) scale(0.863,1)" font-size="26.6" fill="#000" stroke="#000" stroke-width="0.6">15,000</text>
<text transform="translate(520.96,1002.00) scale(0.863,1)" font-size="26.6" fill="#000" stroke="#000" stroke-width="0.6">10,000</text>
<text transform="translate(533.69,1068.30) scale(0.863,1)" font-size="26.6" fill="#000" stroke="#000" stroke-width="0.6">5,000</text>
<text transform="translate(578.13,1134.40) scale(0.863,1)" font-size="26.6" fill="#000" stroke="#000" stroke-width="0.6">0</text>
<text transform="translate(501.30,1103.20) rotate(-90)" font-size="26.53" fill="#000">IL-13 (pg/mL)</text>
<line x1="620.90" y1="914.30" x2="657.20" y2="914.30" stroke="#000" stroke-width="2.5" stroke-linecap="butt"/>
<line x1="620.90" y1="907.00" x2="620.90" y2="921.80" stroke="#000" stroke-width="2.5" stroke-linecap="butt"/>
<line x1="657.20" y1="907.00" x2="657.20" y2="921.80" stroke="#000" stroke-width="2.5" stroke-linecap="butt"/>
<line x1="694.40" y1="914.30" x2="730.70" y2="914.30" stroke="#000" stroke-width="2.5" stroke-linecap="butt"/>
<line x1="694.40" y1="907.00" x2="694.40" y2="921.80" stroke="#000" stroke-width="2.5" stroke-linecap="butt"/>
<line x1="730.70" y1="907.00" x2="730.70" y2="921.80" stroke="#000" stroke-width="2.5" stroke-linecap="butt"/>
<line x1="768.70" y1="914.30" x2="804.80" y2="914.30" stroke="#000" stroke-width="2.5" stroke-linecap="butt"/>
<line x1="768.70" y1="907.00" x2="768.70" y2="921.80" stroke="#000" stroke-width="2.5" stroke-linecap="butt"/>
<line x1="804.80" y1="907.00" x2="804.80" y2="921.80" stroke="#000" stroke-width="2.5" stroke-linecap="butt"/>
<line x1="842.70" y1="914.30" x2="879.40" y2="914.30" stroke="#000" stroke-width="2.5" stroke-linecap="butt"/>
<line x1="842.70" y1="907.00" x2="842.70" y2="921.80" stroke="#000" stroke-width="2.5" stroke-linecap="butt"/>
<line x1="879.40" y1="907.00" x2="879.40" y2="921.80" stroke="#000" stroke-width="2.5" stroke-linecap="butt"/>
<text x="627.90" y="910.62" font-size="22" fill="#000">*</text>
<text x="638.10" y="910.62" font-size="22" fill="#000">*</text>
<text x="697.77" y="903.20" font-size="26" fill="#000" >ns</text>
<text x="771.17" y="903.20" font-size="26" fill="#000" >ns</text>
<text x="852.40" y="910.33" font-size="22" fill="#000">*</text>
<text x="862.60" y="910.33" font-size="22" fill="#000">*</text>
<circle cx="619.50" cy="1066.40" r="4.35" fill="#000"/>
<circle cx="611.40" cy="1080.70" r="4.35" fill="#000"/>
<circle cx="617.20" cy="1080.10" r="4.35" fill="#000"/>
<circle cx="626.30" cy="1080.10" r="4.35" fill="#000"/>
<circle cx="627.50" cy="1082.40" r="4.35" fill="#000"/>
<circle cx="610.30" cy="1091.60" r="4.35" fill="#000"/>
<circle cx="617.20" cy="1090.40" r="4.35" fill="#000"/>
<circle cx="628.60" cy="1091.60" r="4.35" fill="#000"/>
<circle cx="615.50" cy="1097.30" r="4.35" fill="#000"/>
<circle cx="622.90" cy="1096.10" r="4.35" fill="#000"/>
<circle cx="617.20" cy="1100.70" r="4.35" fill="#000"/>
<circle cx="614.90" cy="1111.60" r="4.35" fill="#000"/>
<circle cx="623.50" cy="1111.60" r="4.35" fill="#000"/>
<line x1="619.50" y1="1079.00" x2="619.50" y2="1103.90" stroke="#000" stroke-width="2.5" stroke-linecap="butt"/>
<line x1="613.50" y1="1079.00" x2="625.50" y2="1079.00" stroke="#000" stroke-width="2.5" stroke-linecap="butt"/>
<line x1="613.50" y1="1103.90" x2="625.50" y2="1103.90" stroke="#000" stroke-width="2.5" stroke-linecap="butt"/>
<line x1="607.20" y1="1091.60" x2="631.80" y2="1091.60" stroke="#000" stroke-width="2.5" stroke-linecap="butt"/>
<circle cx="652.10" cy="1076.10" r="4.35" fill="#ff0000"/>
<circle cx="665.50" cy="1083.50" r="4.35" fill="#ff0000"/>
<circle cx="661.20" cy="1090.40" r="4.35" fill="#ff0000"/>
<circle cx="652.10" cy="1093.30" r="4.35" fill="#ff0000"/>
<circle cx="664.70" cy="1101.30" r="4.35" fill="#ff0000"/>
<circle cx="648.10" cy="1106.40" r="4.35" fill="#ff0000"/>
<circle cx="659.50" cy="1106.40" r="4.35" fill="#ff0000"/>
<circle cx="646.90" cy="1113.90" r="4.35" fill="#ff0000"/>
<circle cx="665.80" cy="1113.30" r="4.35" fill="#ff0000"/>
<circle cx="653.80" cy="1119.00" r="4.35" fill="#ff0000"/>
<circle cx="659.50" cy="1118.50" r="4.35" fill="#ff0000"/>
<circle cx="652.60" cy="1108.20" r="4.35" fill="#ff0000"/>
<line x1="656.70" y1="1089.80" x2="656.70" y2="1116.50" stroke="#000" stroke-width="2.5" stroke-linecap="butt"/>
<line x1="650.70" y1="1089.80" x2="662.70" y2="1089.80" stroke="#000" stroke-width="2.5" stroke-linecap="butt"/>
<line x1="650.70" y1="1116.50" x2="662.70" y2="1116.50" stroke="#000" stroke-width="2.5" stroke-linecap="butt"/>
<line x1="644.40" y1="1103.00" x2="669.00" y2="1103.00" stroke="#000" stroke-width="2.5" stroke-linecap="butt"/>
<g clip-path="url(#clip13)">
<circle cx="686.30" cy="1119.60" r="4.35" fill="#000"/>
<circle cx="701.80" cy="1119.60" r="4.35" fill="#000"/>
<circle cx="693.80" cy="1122.50" r="4.35" fill="#000"/>
<circle cx="684.50" cy="1122.50" r="4.35" fill="#000"/>
<circle cx="703.50" cy="1122.50" r="4.35" fill="#000"/>
<line x1="680.60" y1="1121.60" x2="707.40" y2="1121.60" stroke="#000" stroke-width="2.5" stroke-linecap="butt"/>
<circle cx="723.20" cy="1120.70" r="4.35" fill="#ff0000"/>
<circle cx="738.70" cy="1120.70" r="4.35" fill="#ff0000"/>
<circle cx="731.00" cy="1123.00" r="4.35" fill="#ff0000"/>
<line x1="718.00" y1="1121.60" x2="744.20" y2="1121.60" stroke="#000" stroke-width="2.5" stroke-linecap="butt"/>
<circle cx="768.30" cy="1002.40" r="4.35" fill="#000"/>
<circle cx="768.30" cy="1026.00" r="4.35" fill="#000"/>
<circle cx="772.90" cy="1044.10" r="4.35" fill="#000"/>
<circle cx="763.80" cy="1046.40" r="4.35" fill="#000"/>
<circle cx="776.90" cy="1049.10" r="4.35" fill="#000"/>
<circle cx="760.40" cy="1055.10" r="4.35" fill="#000"/>
<circle cx="768.30" cy="1057.70" r="4.35" fill="#000"/>
<circle cx="768.30" cy="1074.70" r="4.35" fill="#000"/>
<circle cx="758.80" cy="1079.30" r="4.35" fill="#000"/>
<circle cx="777.70" cy="1079.60" r="4.35" fill="#000"/>
<circle cx="764.90" cy="1084.80" r="4.35" fill="#000"/>
<circle cx="771.70" cy="1084.80" r="4.35" fill="#000"/>
<circle cx="768.30" cy="1098.00" r="4.35" fill="#000"/>
<line x1="768.30" y1="1033.30" x2="768.30" y2="1085.90" stroke="#000" stroke-width="2.5" stroke-linecap="butt"/>
<line x1="762.30" y1="1033.30" x2="774.30" y2="1033.30" stroke="#000" stroke-width="2.5" stroke-linecap="butt"/>
<line x1="762.30" y1="1085.90" x2="774.30" y2="1085.90" stroke="#000" stroke-width="2.5" stroke-linecap="butt"/>
<line x1="756.00" y1="1059.70" x2="780.60" y2="1059.70" stroke="#000" stroke-width="2.5" stroke-linecap="butt"/>
<circle cx="805.60" cy="968.30" r="4.35" fill="#ff0000"/>
<circle cx="805.60" cy="1024.50" r="4.35" fill="#ff0000"/>
<circle cx="805.60" cy="1039.60" r="4.35" fill="#ff0000"/>
<circle cx="801.10" cy="1052.40" r="4.35" fill="#ff0000"/>
<circle cx="814.60" cy="1052.40" r="4.35" fill="#ff0000"/>
<circle cx="809.70" cy="1060.00" r="4.35" fill="#ff0000"/>
<circle cx="801.10" cy="1066.00" r="4.35" fill="#ff0000"/>
<circle cx="798.00" cy="1080.30" r="4.35" fill="#ff0000"/>
<circle cx="813.90" cy="1079.60" r="4.35" fill="#ff0000"/>
<circle cx="801.80" cy="1085.60" r="4.35" fill="#ff0000"/>
<circle cx="808.60" cy="1087.80" r="4.35" fill="#ff0000"/>
<circle cx="805.60" cy="1098.40" r="4.35" fill="#ff0000"/>
<line x1="805.50" y1="1025.00" x2="805.50" y2="1094.60" stroke="#000" stroke-width="2.5" stroke-linecap="butt"/>
<line x1="799.50" y1="1025.00" x2="811.50" y2="1025.00" stroke="#000" stroke-width="2.5" stroke-linecap="butt"/>
<line x1="799.50" y1="1094.60" x2="811.50" y2="1094.60" stroke="#000" stroke-width="2.5" stroke-linecap="butt"/>
<line x1="793.20" y1="1059.70" x2="817.80" y2="1059.70" stroke="#000" stroke-width="2.5" stroke-linecap="butt"/>
<circle cx="835.80" cy="1123.60" r="4.35" fill="#000"/>
<circle cx="843.00" cy="1123.60" r="4.35" fill="#000"/>
<circle cx="850.80" cy="1123.60" r="4.35" fill="#000"/>
<circle cx="872.70" cy="1124.40" r="4.35" fill="#ff0000"/>
<circle cx="880.00" cy="1124.40" r="4.35" fill="#ff0000"/>
<circle cx="887.20" cy="1124.40" r="4.35" fill="#ff0000"/>
</g>
<text x="482.95" y="1161.30" font-size="26.8" fill="#000" >rhOX40L</text>
<text x="613.12" y="1161.30" font-size="26.5" fill="#000" >-</text>
<text x="646.65" y="1161.30" font-size="26.5" fill="#000" >+</text>
<line x1="615.50" y1="1168.30" x2="655.00" y2="1168.30" stroke="#000" stroke-width="2.2" stroke-linecap="butt"/>
<text x="687.52" y="1161.30" font-size="26.5" fill="#000" >-</text>
<text x="721.05" y="1161.30" font-size="26.5" fill="#000" >+</text>
<line x1="689.50" y1="1168.30" x2="729.10" y2="1168.30" stroke="#000" stroke-width="2.2" stroke-linecap="butt"/>
<text x="761.92" y="1161.30" font-size="26.5" fill="#000" >-</text>
<text x="795.45" y="1161.30" font-size="26.5" fill="#000" >+</text>
<line x1="762.30" y1="1168.30" x2="801.50" y2="1168.30" stroke="#000" stroke-width="2.2" stroke-linecap="butt"/>
<text x="836.33" y="1161.30" font-size="26.5" fill="#000" >-</text>
<text x="869.85" y="1161.30" font-size="26.5" fill="#000" >+</text>
<line x1="838.50" y1="1168.30" x2="878.80" y2="1168.30" stroke="#000" stroke-width="2.2" stroke-linecap="butt"/>
<text x="611.27" y="1197.90" font-size="26.2" fill="#000" >Th0</text>
<text x="685.20" y="1197.90" font-size="26.2" fill="#000" >Th1</text>
<text x="761.92" y="1197.90" font-size="26.2" fill="#000" >Th2</text>
<text x="828.40" y="1197.90" font-size="26.2" fill="#000" >Th17</text>
<line x1="1059.30" y1="925.00" x2="1059.30" y2="1125.70" stroke="#000" stroke-width="2.5" stroke-linecap="butt"/>
<line x1="1053.20" y1="926.20" x2="1059.30" y2="926.20" stroke="#000" stroke-width="2.5" stroke-linecap="butt"/>
<line x1="1053.20" y1="992.30" x2="1059.30" y2="992.30" stroke="#000" stroke-width="2.5" stroke-linecap="butt"/>
<line x1="1053.20" y1="1058.40" x2="1059.30" y2="1058.40" stroke="#000" stroke-width="2.5" stroke-linecap="butt"/>
<line x1="1053.20" y1="1124.50" x2="1059.30" y2="1124.50" stroke="#000" stroke-width="2.5" stroke-linecap="butt"/>
<line x1="1059.30" y1="1124.50" x2="1359.20" y2="1124.50" stroke="#000" stroke-width="2.5" stroke-linecap="butt"/>
<line x1="1077.60" y1="1124.50" x2="1077.60" y2="1131.60" stroke="#000" stroke-width="2.5" stroke-linecap="butt"/>
<line x1="1114.80" y1="1124.50" x2="1114.80" y2="1131.60" stroke="#000" stroke-width="2.5" stroke-linecap="butt"/>
<line x1="1152.00" y1="1124.50" x2="1152.00" y2="1131.60" stroke="#000" stroke-width="2.5" stroke-linecap="butt"/>
<line x1="1189.20" y1="1124.50" x2="1189.20" y2="1131.60" stroke="#000" stroke-width="2.5" stroke-linecap="butt"/>
<line x1="1226.40" y1="1124.50" x2="1226.40" y2="1131.60" stroke="#000" stroke-width="2.5" stroke-linecap="butt"/>
<line x1="1263.60" y1="1124.50" x2="1263.60" y2="1131.60" stroke="#000" stroke-width="2.5" stroke-linecap="butt"/>
<line x1="1300.80" y1="1124.50" x2="1300.80" y2="1131.60" stroke="#000" stroke-width="2.5" stroke-linecap="butt"/>
<line x1="1338.00" y1="1124.50" x2="1338.00" y2="1131.60" stroke="#000" stroke-width="2.5" stroke-linecap="butt"/>
<text transform="translate(1010.98,935.20) scale(0.863,1)" font-size="26.6" fill="#000" stroke="#000" stroke-width="0.6">600</text>
<text transform="translate(1010.98,1001.60) scale(0.863,1)" font-size="26.6" fill="#000" stroke="#000" stroke-width="0.6">400</text>
<text transform="translate(1010.98,1067.20) scale(0.863,1)" font-size="26.6" fill="#000" stroke="#000" stroke-width="0.6">200</text>
<text transform="translate(1036.43,1132.80) scale(0.863,1)" font-size="26.6" fill="#000" stroke="#000" stroke-width="0.6">0</text>
<text transform="translate(971.30,1103.00) rotate(-90)" font-size="26.53" fill="#000">IL-22 (pg/mL)</text>
<line x1="1076.10" y1="914.60" x2="1112.70" y2="914.60" stroke="#000" stroke-width="2.5" stroke-linecap="butt"/>
<line x1="1076.10" y1="906.90" x2="1076.10" y2="922.30" stroke="#000" stroke-width="2.5" stroke-linecap="butt"/>
<line x1="1112.70" y1="906.90" x2="1112.70" y2="922.30" stroke="#000" stroke-width="2.5" stroke-linecap="butt"/>
<line x1="1150.90" y1="914.60" x2="1187.50" y2="914.60" stroke="#000" stroke-width="2.5" stroke-linecap="butt"/>
<line x1="1150.90" y1="906.90" x2="1150.90" y2="922.30" stroke="#000" stroke-width="2.5" stroke-linecap="butt"/>
<line x1="1187.50" y1="906.90" x2="1187.50" y2="922.30" stroke="#000" stroke-width="2.5" stroke-linecap="butt"/>
<line x1="1225.80" y1="914.60" x2="1262.20" y2="914.60" stroke="#000" stroke-width="2.5" stroke-linecap="butt"/>
<line x1="1225.80" y1="906.90" x2="1225.80" y2="922.30" stroke="#000" stroke-width="2.5" stroke-linecap="butt"/>
<line x1="1262.20" y1="906.90" x2="1262.20" y2="922.30" stroke="#000" stroke-width="2.5" stroke-linecap="butt"/>
<line x1="1300.80" y1="914.60" x2="1337.40" y2="914.60" stroke="#000" stroke-width="2.5" stroke-linecap="butt"/>
<line x1="1300.80" y1="906.90" x2="1300.80" y2="922.30" stroke="#000" stroke-width="2.5" stroke-linecap="butt"/>
<line x1="1337.40" y1="906.90" x2="1337.40" y2="922.30" stroke="#000" stroke-width="2.5" stroke-linecap="butt"/>
<text x="1079.97" y="906.80" font-size="26" fill="#000" >ns</text>
<text x="1159.85" y="909.42" font-size="22" fill="#000">*</text>
<text x="1170.25" y="909.42" font-size="22" fill="#000">*</text>
<text x="1229.38" y="906.80" font-size="26" fill="#000" >ns</text>
<text x="1302.78" y="906.80" font-size="26" fill="#000" >ns</text>
<circle cx="1077.60" cy="948.50" r="4.35" fill="#000"/>
<circle cx="1077.60" cy="964.90" r="4.35" fill="#000"/>
<circle cx="1077.60" cy="1012.10" r="4.35" fill="#000"/>
<circle cx="1077.60" cy="1034.60" r="4.35" fill="#000"/>
<circle cx="1073.80" cy="1043.30" r="4.35" fill="#000"/>
<circle cx="1081.50" cy="1044.00" r="4.35" fill="#000"/>
<circle cx="1083.00" cy="1056.30" r="4.35" fill="#000"/>
<circle cx="1072.80" cy="1060.70" r="4.35" fill="#000"/>
<circle cx="1073.20" cy="1077.40" r="4.35" fill="#000"/>
<circle cx="1082.20" cy="1085.80" r="4.35" fill="#000"/>
<circle cx="1069.90" cy="1094.10" r="4.35" fill="#000"/>
<circle cx="1077.20" cy="1103.50" r="4.35" fill="#000"/>
<circle cx="1085.90" cy="1102.10" r="4.35" fill="#000"/>
<line x1="1077.60" y1="999.30" x2="1077.60" y2="1097.70" stroke="#000" stroke-width="2.5" stroke-linecap="butt"/>
<line x1="1071.60" y1="999.30" x2="1083.60" y2="999.30" stroke="#000" stroke-width="2.5" stroke-linecap="butt"/>
<line x1="1071.60" y1="1097.70" x2="1083.60" y2="1097.70" stroke="#000" stroke-width="2.5" stroke-linecap="butt"/>
<line x1="1065.30" y1="1048.40" x2="1089.90" y2="1048.40" stroke="#000" stroke-width="2.5" stroke-linecap="butt"/>
<circle cx="1110.50" cy="1021.50" r="4.35" fill="#ff0000"/>
<circle cx="1119.20" cy="1022.20" r="4.35" fill="#ff0000"/>
<circle cx="1114.90" cy="1035.30" r="4.35" fill="#ff0000"/>
<circle cx="1106.90" cy="1057.40" r="4.35" fill="#ff0000"/>
<circle cx="1122.90" cy="1057.40" r="4.35" fill="#ff0000"/>
<circle cx="1114.90" cy="1077.40" r="4.35" fill="#ff0000"/>
<circle cx="1111.30" cy="1098.40" r="4.35" fill="#ff0000"/>
<circle cx="1119.20" cy="1098.40" r="4.35" fill="#ff0000"/>
<circle cx="1105.50" cy="1104.20" r="4.35" fill="#ff0000"/>
<circle cx="1124.30" cy="1104.20" r="4.35" fill="#ff0000"/>
<circle cx="1111.30" cy="1109.30" r="4.35" fill="#ff0000"/>
<circle cx="1118.50" cy="1109.30" r="4.35" fill="#ff0000"/>
<line x1="1114.80" y1="1040.40" x2="1114.80" y2="1106.40" stroke="#000" stroke-width="2.5" stroke-linecap="butt"/>
<line x1="1108.80" y1="1040.40" x2="1120.80" y2="1040.40" stroke="#000" stroke-width="2.5" stroke-linecap="butt"/>
<line x1="1108.80" y1="1106.40" x2="1120.80" y2="1106.40" stroke="#000" stroke-width="2.5" stroke-linecap="butt"/>
<line x1="1102.50" y1="1073.30" x2="1127.10" y2="1073.30" stroke="#000" stroke-width="2.5" stroke-linecap="butt"/>
<circle cx="1152.00" cy="1069.70" r="4.35" fill="#000"/>
<circle cx="1144.60" cy="1090.30" r="4.35" fill="#000"/>
<circle cx="1160.60" cy="1088.60" r="4.35" fill="#000"/>
<circle cx="1152.00" cy="1092.90" r="4.35" fill="#000"/>
<circle cx="1155.40" cy="1099.70" r="4.35" fill="#000"/>
<circle cx="1142.90" cy="1104.00" r="4.35" fill="#000"/>
<circle cx="1152.30" cy="1104.90" r="4.35" fill="#000"/>
<circle cx="1144.60" cy="1113.50" r="4.35" fill="#000"/>
<circle cx="1160.00" cy="1111.80" r="4.35" fill="#000"/>
<circle cx="1152.30" cy="1113.50" r="4.35" fill="#000"/>
<circle cx="1159.20" cy="1116.90" r="4.35" fill="#000"/>
<circle cx="1152.00" cy="1122.00" r="4.35" fill="#000"/>
<line x1="1152.00" y1="1088.60" x2="1152.00" y2="1116.60" stroke="#000" stroke-width="2.5" stroke-linecap="butt"/>
<line x1="1146.00" y1="1088.60" x2="1158.00" y2="1088.60" stroke="#000" stroke-width="2.5" stroke-linecap="butt"/>
<line x1="1146.00" y1="1116.60" x2="1158.00" y2="1116.60" stroke="#000" stroke-width="2.5" stroke-linecap="butt"/>
<line x1="1139.70" y1="1103.20" x2="1164.30" y2="1103.20" stroke="#000" stroke-width="2.5" stroke-linecap="butt"/>
<circle cx="1181.20" cy="1093.70" r="4.35" fill="#ff0000"/>
<circle cx="1189.20" cy="1097.20" r="4.35" fill="#ff0000"/>
<circle cx="1197.30" cy="1095.50" r="4.35" fill="#ff0000"/>
<circle cx="1197.30" cy="1104.90" r="4.35" fill="#ff0000"/>
<circle cx="1181.20" cy="1109.20" r="4.35" fill="#ff0000"/>
<circle cx="1189.20" cy="1112.60" r="4.35" fill="#ff0000"/>
<circle cx="1181.50" cy="1117.80" r="4.35" fill="#ff0000"/>
<circle cx="1197.30" cy="1119.50" r="4.35" fill="#ff0000"/>
<circle cx="1189.20" cy="1120.30" r="4.35" fill="#ff0000"/>
<line x1="1189.20" y1="1100.60" x2="1189.20" y2="1121.70" stroke="#000" stroke-width="2.5" stroke-linecap="butt"/>
<line x1="1183.20" y1="1100.60" x2="1195.20" y2="1100.60" stroke="#000" stroke-width="2.5" stroke-linecap="butt"/>
<line x1="1183.20" y1="1121.70" x2="1195.20" y2="1121.70" stroke="#000" stroke-width="2.5" stroke-linecap="butt"/>
<line x1="1176.90" y1="1111.40" x2="1201.50" y2="1111.40" stroke="#000" stroke-width="2.5" stroke-linecap="butt"/>
<g clip-path="url(#clip22)">
<circle cx="1226.50" cy="1104.90" r="4.35" fill="#000"/>
<circle cx="1231.30" cy="1115.20" r="4.35" fill="#000"/>
<circle cx="1217.60" cy="1119.50" r="4.35" fill="#000"/>
<circle cx="1236.40" cy="1118.60" r="4.35" fill="#000"/>
<circle cx="1222.70" cy="1120.30" r="4.35" fill="#000"/>
<circle cx="1231.30" cy="1120.30" r="4.35" fill="#000"/>
<line x1="1214.00" y1="1119.00" x2="1239.00" y2="1119.00" stroke="#000" stroke-width="2.5" stroke-linecap="butt"/>
<circle cx="1263.90" cy="1098.90" r="4.35" fill="#ff0000"/>
<circle cx="1255.30" cy="1110.90" r="4.35" fill="#ff0000"/>
<circle cx="1273.30" cy="1113.50" r="4.35" fill="#ff0000"/>
<circle cx="1255.30" cy="1120.30" r="4.35" fill="#ff0000"/>
<circle cx="1273.30" cy="1120.30" r="4.35" fill="#ff0000"/>
<circle cx="1263.90" cy="1121.20" r="4.35" fill="#ff0000"/>
<line x1="1263.60" y1="1111.80" x2="1263.60" y2="1118.60" stroke="#000" stroke-width="2.5" stroke-linecap="butt"/>
<line x1="1257.60" y1="1111.80" x2="1269.60" y2="1111.80" stroke="#000" stroke-width="2.5" stroke-linecap="butt"/>
<line x1="1250.70" y1="1118.60" x2="1276.50" y2="1118.60" stroke="#000" stroke-width="2.5" stroke-linecap="butt"/>
<circle cx="1293.10" cy="1097.20" r="4.35" fill="#000"/>
<circle cx="1308.50" cy="1101.50" r="4.35" fill="#000"/>
<circle cx="1300.80" cy="1103.20" r="4.35" fill="#000"/>
<circle cx="1291.40" cy="1112.60" r="4.35" fill="#000"/>
<circle cx="1310.30" cy="1113.10" r="4.35" fill="#000"/>
<circle cx="1300.80" cy="1114.30" r="4.35" fill="#000"/>
<circle cx="1294.80" cy="1122.00" r="4.35" fill="#000"/>
<circle cx="1306.80" cy="1122.00" r="4.35" fill="#000"/>
<line x1="1300.80" y1="1104.90" x2="1300.80" y2="1124.50" stroke="#000" stroke-width="2.5" stroke-linecap="butt"/>
<line x1="1294.80" y1="1104.90" x2="1306.80" y2="1104.90" stroke="#000" stroke-width="2.5" stroke-linecap="butt"/>
<line x1="1287.30" y1="1113.80" x2="1314.30" y2="1113.80" stroke="#000" stroke-width="2.5" stroke-linecap="butt"/>
<circle cx="1346.30" cy="1105.80" r="4.35" fill="#ff0000"/>
<circle cx="1330.90" cy="1109.20" r="4.35" fill="#ff0000"/>
<circle cx="1342.00" cy="1110.90" r="4.35" fill="#ff0000"/>
<circle cx="1332.60" cy="1119.50" r="4.35" fill="#ff0000"/>
<circle cx="1346.30" cy="1119.50" r="4.35" fill="#ff0000"/>
<circle cx="1338.60" cy="1120.30" r="4.35" fill="#ff0000"/>
<line x1="1338.00" y1="1111.80" x2="1338.00" y2="1124.50" stroke="#000" stroke-width="2.5" stroke-linecap="butt"/>
<line x1="1332.00" y1="1111.80" x2="1344.00" y2="1111.80" stroke="#000" stroke-width="2.5" stroke-linecap="butt"/>
<line x1="1325.00" y1="1117.80" x2="1351.00" y2="1117.80" stroke="#000" stroke-width="2.5" stroke-linecap="butt"/>
</g>
<text x="942.35" y="1161.80" font-size="26.85" fill="#000" >rhOX40L</text>
<text x="1073.52" y="1161.80" font-size="26.5" fill="#000" >-</text>
<text x="1107.05" y="1161.80" font-size="26.5" fill="#000" >+</text>
<line x1="1075.60" y1="1168.50" x2="1115.80" y2="1168.50" stroke="#000" stroke-width="2.2" stroke-linecap="butt"/>
<text x="1147.92" y="1161.80" font-size="26.5" fill="#000" >-</text>
<text x="1181.45" y="1161.80" font-size="26.5" fill="#000" >+</text>
<line x1="1149.30" y1="1168.50" x2="1189.50" y2="1168.50" stroke="#000" stroke-width="2.2" stroke-linecap="butt"/>
<text x="1222.32" y="1161.80" font-size="26.5" fill="#000" >-</text>
<text x="1255.85" y="1161.80" font-size="26.5" fill="#000" >+</text>
<line x1="1221.90" y1="1168.50" x2="1262.10" y2="1168.50" stroke="#000" stroke-width="2.2" stroke-linecap="butt"/>
<text x="1296.72" y="1161.80" font-size="26.5" fill="#000" >-</text>
<text x="1330.25" y="1161.80" font-size="26.5" fill="#000" >+</text>
<line x1="1299.30" y1="1168.50" x2="1339.10" y2="1168.50" stroke="#000" stroke-width="2.2" stroke-linecap="butt"/>
<text x="1072.03" y="1198.70" font-size="26.2" fill="#000" >Th0</text>
<text x="1145.70" y="1198.70" font-size="26.2" fill="#000" >Th1</text>
<text x="1222.12" y="1198.70" font-size="26.2" fill="#000" >Th2</text>
<text x="1288.10" y="1198.70" font-size="26.2" fill="#000" >Th17</text>
<circle cx="928.40" cy="1243.70" r="7.4" fill="#e8262a"/>
<text x="943.10" y="1250.00" font-size="24.24" fill="#000" >Presence of OX40L (adding rhOX40L)</text>
<circle cx="928.40" cy="1282.40" r="7.4" fill="#000"/>
<text x="942.75" y="1288.70" font-size="24.15" fill="#000" >Absence of OX40L</text>
<text x="-1.70" y="1364.90" font-size="48" fill="#000" >d</text>
<line x1="471.55" y1="1351.50" x2="471.55" y2="1712.90" stroke="#efefef" stroke-width="1.5" stroke-linecap="butt"/>
<line x1="613.05" y1="1351.50" x2="613.05" y2="1712.90" stroke="#efefef" stroke-width="1.5" stroke-linecap="butt"/>
<line x1="754.55" y1="1351.50" x2="754.55" y2="1712.90" stroke="#efefef" stroke-width="1.5" stroke-linecap="butt"/>
<line x1="896.05" y1="1351.50" x2="896.05" y2="1712.90" stroke="#efefef" stroke-width="1.5" stroke-linecap="butt"/>
<line x1="445.80" y1="1696.62" x2="1027.80" y2="1696.62" stroke="#efefef" stroke-width="1.5" stroke-linecap="butt"/>
<line x1="445.80" y1="1630.78" x2="1027.80" y2="1630.78" stroke="#efefef" stroke-width="1.5" stroke-linecap="butt"/>
<line x1="445.80" y1="1564.92" x2="1027.80" y2="1564.92" stroke="#efefef" stroke-width="1.5" stroke-linecap="butt"/>
<line x1="445.80" y1="1499.08" x2="1027.80" y2="1499.08" stroke="#efefef" stroke-width="1.5" stroke-linecap="butt"/>
<line x1="445.80" y1="1433.22" x2="1027.80" y2="1433.22" stroke="#efefef" stroke-width="1.5" stroke-linecap="butt"/>
<line x1="445.80" y1="1367.38" x2="1027.80" y2="1367.38" stroke="#efefef" stroke-width="1.5" stroke-linecap="butt"/>
<line x1="542.30" y1="1351.50" x2="542.30" y2="1712.90" stroke="#e8e8e8" stroke-width="2.2" stroke-linecap="butt"/>
<line x1="825.30" y1="1351.50" x2="825.30" y2="1712.90" stroke="#e8e8e8" stroke-width="2.2" stroke-linecap="butt"/>
<line x1="966.80" y1="1351.50" x2="966.80" y2="1712.90" stroke="#e8e8e8" stroke-width="2.2" stroke-linecap="butt"/>
<line x1="445.80" y1="1663.70" x2="1027.80" y2="1663.70" stroke="#e8e8e8" stroke-width="2.2" stroke-linecap="butt"/>
<line x1="445.80" y1="1597.85" x2="1027.80" y2="1597.85" stroke="#e8e8e8" stroke-width="2.2" stroke-linecap="butt"/>
<line x1="445.80" y1="1466.15" x2="1027.80" y2="1466.15" stroke="#e8e8e8" stroke-width="2.2" stroke-linecap="butt"/>
<line x1="445.80" y1="1400.30" x2="1027.80" y2="1400.30" stroke="#e8e8e8" stroke-width="2.2" stroke-linecap="butt"/>
<line x1="683.80" y1="1351.50" x2="683.80" y2="1712.90" stroke="#000" stroke-width="2.0" stroke-linecap="butt"/>
<line x1="445.80" y1="1532.00" x2="1027.80" y2="1532.00" stroke="#000" stroke-width="2.0" stroke-linecap="butt"/>
<rect x="445.8" y="1351.5" width="582.00" height="361.40" fill="none" stroke="#333" stroke-width="1.4"/>
<line x1="440.00" y1="1663.70" x2="445.80" y2="1663.70" stroke="#333" stroke-width="1.4" stroke-linecap="butt"/>
<line x1="440.00" y1="1597.85" x2="445.80" y2="1597.85" stroke="#333" stroke-width="1.4" stroke-linecap="butt"/>
<line x1="440.00" y1="1532.00" x2="445.80" y2="1532.00" stroke="#333" stroke-width="1.4" stroke-linecap="butt"/>
<line x1="440.00" y1="1466.15" x2="445.80" y2="1466.15" stroke="#333" stroke-width="1.4" stroke-linecap="butt"/>
<line x1="440.00" y1="1400.30" x2="445.80" y2="1400.30" stroke="#333" stroke-width="1.4" stroke-linecap="butt"/>
<line x1="542.30" y1="1712.90" x2="542.30" y2="1717.50" stroke="#333" stroke-width="1.4" stroke-linecap="butt"/>
<line x1="683.80" y1="1712.90" x2="683.80" y2="1717.50" stroke="#333" stroke-width="1.4" stroke-linecap="butt"/>
<line x1="825.30" y1="1712.90" x2="825.30" y2="1717.50" stroke="#333" stroke-width="1.4" stroke-linecap="butt"/>
<line x1="966.80" y1="1712.90" x2="966.80" y2="1717.50" stroke="#333" stroke-width="1.4" stroke-linecap="butt"/>
<text x="421.90" y="1405.20" font-size="26.3" fill="#000" >2</text>
<text x="421.65" y="1471.05" font-size="26.3" fill="#000" >1</text>
<text x="421.90" y="1536.90" font-size="26.3" fill="#000" >0</text>
<text x="406.40" y="1602.75" font-size="26.3" fill="#000" >−1</text>
<text x="406.65" y="1668.60" font-size="26.3" fill="#000" >−2</text>
<text x="527.72" y="1744.30" font-size="26.3" fill="#000" >−2</text>
<text x="676.85" y="1744.30" font-size="26.3" fill="#000" >0</text>
<text x="818.35" y="1744.30" font-size="26.3" fill="#000" >2</text>
<text x="959.60" y="1744.30" font-size="26.3" fill="#000" >4</text>
<text x="559.55" y="1784.40" font-size="26.67" fill="#000" >Principal component 1 (31.2%)</text>
<text transform="translate(391.40,1723.00) rotate(-90)" font-size="26.51" fill="#000">Principal component 2 (18.3%)</text>
<circle cx="573.00" cy="1406.50" r="3.2" fill="#000"/>
<circle cx="573.90" cy="1424.10" r="3.2" fill="#ff0000"/>
<circle cx="713.40" cy="1448.60" r="3.2" fill="#000"/>
<circle cx="664.50" cy="1491.10" r="3.2" fill="#ff0000"/>
<circle cx="964.50" cy="1550.30" r="3.2" fill="#000"/>
<circle cx="852.00" cy="1567.50" r="3.2" fill="#ff0000"/>
<circle cx="569.20" cy="1683.70" r="3.2" fill="#000"/>
<circle cx="559.20" cy="1685.10" r="3.2" fill="#ff0000"/>
<text x="554.75" y="1389.40" font-size="22.7" fill="#000" >Th1</text>
<text x="503.25" y="1456.70" font-size="23.7" fill="#ff0000" >Th1 + OX40L</text>
<text x="695.55" y="1433.60" font-size="23.37" fill="#000" >Th0</text>
<text x="604.95" y="1518.10" font-size="23.64" fill="#ff0000" >Th0 + OX40L</text>
<text x="946.15" y="1582.50" font-size="23.52" fill="#000" >Th2</text>
<text x="782.25" y="1600.50" font-size="23.67" fill="#ff0000" >Th2 + OX40L</text>
<text x="541.85" y="1665.00" font-size="23.87" fill="#000" >Th17</text>
<text x="458.75" y="1708.50" font-size="23.77" fill="#ff0000" >Th17 + OX40L</text>
<circle cx="1045.50" cy="1497.00" r="7.3" fill="#e8262a"/>
<text x="1060.40" y="1503.20" font-size="24.28" fill="#000" >Presence of OX40L</text>
<text x="1060.05" y="1532.20" font-size="24.23" fill="#000" >(adding rhOX40L)</text>
<circle cx="1045.50" cy="1567.50" r="7.3" fill="#000"/>
<text x="1060.15" y="1573.70" font-size="24.19" fill="#000" >Absence of OX40L</text>
</svg>
</body></html>
